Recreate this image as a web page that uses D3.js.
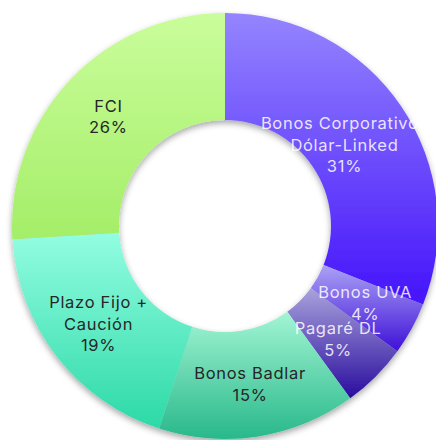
<!DOCTYPE html>
<html>
<head>
<meta charset="utf-8">
<script src="https://cdn.jsdelivr.net/npm/d3@7"></script>
<style>
  html, body { margin: 0; padding: 0; background: #fff; }
  svg { display: block; }
  .label { font-family: "Inter", "Noto Sans", sans-serif; font-size: 16.5px; letter-spacing: 0.7px; }
</style>
</head>
<body>
<div id="donut-chart"><svg></svg></div>
<script>
// data
const categories = [
  ["Bonos Corporativos", "Dólar-Linked"],
  ["Bonos UVA"],
  ["Pagaré DL"],
  ["Bonos Badlar"],
  ["Plazo Fijo +", "Caución"],
  ["FCI"]
];
const shares = [31, 4, 5, 15, 19, 26];
const topColors = ["#9485fe", "#aaa2f5", "#a8a2dc", "#a2f5d4", "#93fde2", "#cafd9b"];
const bottomColors = ["#4513fb", "#3e10d8", "#2a0c9e", "#28b88a", "#2cd9a6", "#a4ee68"];
const textColors = ["#fff", "#fff", "#fff", "#262626", "#262626", "#262626"];

document.addEventListener("DOMContentLoaded", function () {
  const width = 436,
    height = 440,
    cx = 225,
    cy = 226,
    outer = 213,
    inner = 106,
    labelR = 160;

  const svg = d3.select("#donut-chart svg").attr("width", width).attr("height", height);
  const defs = svg.append("defs");

  const shadow = defs
    .append("filter")
    .attr("id", "ring-shadow")
    .attr("x", "-10%").attr("y", "-10%")
    .attr("width", "120%").attr("height", "120%");
  shadow
    .append("feDropShadow")
    .attr("dx", 0)
    .attr("dy", 3)
    .attr("stdDeviation", 3)
    .attr("flood-color", "#000")
    .attr("flood-opacity", 0.35);

  shares.forEach((d, i) => {
    const g = defs
      .append("linearGradient")
      .attr("id", "grad-" + i)
      .attr("x1", 0).attr("y1", 0)
      .attr("x2", 0).attr("y2", 1);
    g.append("stop").attr("offset", "0%").attr("stop-color", topColors[i]);
    g.append("stop").attr("offset", "100%").attr("stop-color", bottomColors[i]);
  });

  const data = shares.map((v, i) => ({ name: categories[i], value: v, i: i }));

  const pie = d3.pie().value((d) => d.value).sort(null);
  const arc = d3.arc().innerRadius(inner).outerRadius(outer);
  const labelArc = d3.arc().innerRadius(labelR).outerRadius(labelR);

  const chart = svg.append("g").attr("transform", `translate(${cx},${cy})`);

  chart
    .append("g")
    .attr("filter", "url(#ring-shadow)")
    .selectAll("path")
    .data(pie(data))
    .enter()
    .append("path")
    .attr("d", arc)
    .style("fill", (d) => `url(#grad-${d.data.i})`);

  const lineH = 21.5;
  const labels = chart
    .selectAll(".label")
    .data(pie(data))
    .enter()
    .append("text")
    .attr("class", "label")
    .attr("text-anchor", "middle")
    .style("fill", (d) => textColors[d.data.i])
    .style("fill-opacity", (d) => (d.data.i < 3 ? 0.85 : 1));

  labels.each(function (d) {
    const lines = d.data.name.concat([d.data.value + "%"]);
    const t = d3.select(this);
    const y0 = -((lines.length - 1) * lineH) / 2;
    lines.forEach((s, k) => {
      t.append("tspan")
        .attr("x", 0)
        .attr("y", y0 + k * lineH)
        .attr("dy", "0.35em")
        .text(s);
    });
  });

  // place at centroid; pull wide labels in along the radius so they stay on canvas
  function placeLabels() {
    labels.attr("transform", function (d) {
      const w = this.getBBox().width;
      let [x, y] = labelArc.centroid(d);
      const maxX = width - cx - 8 - w / 2;
      if (x > maxX) {
        const k = maxX / x;
        x *= k;
        y *= k;
      }
      return `translate(${x},${y})`;
    });
  }
  placeLabels();
  if (document.fonts) document.fonts.ready.then(placeLabels);
});
</script>
</body>
</html>
